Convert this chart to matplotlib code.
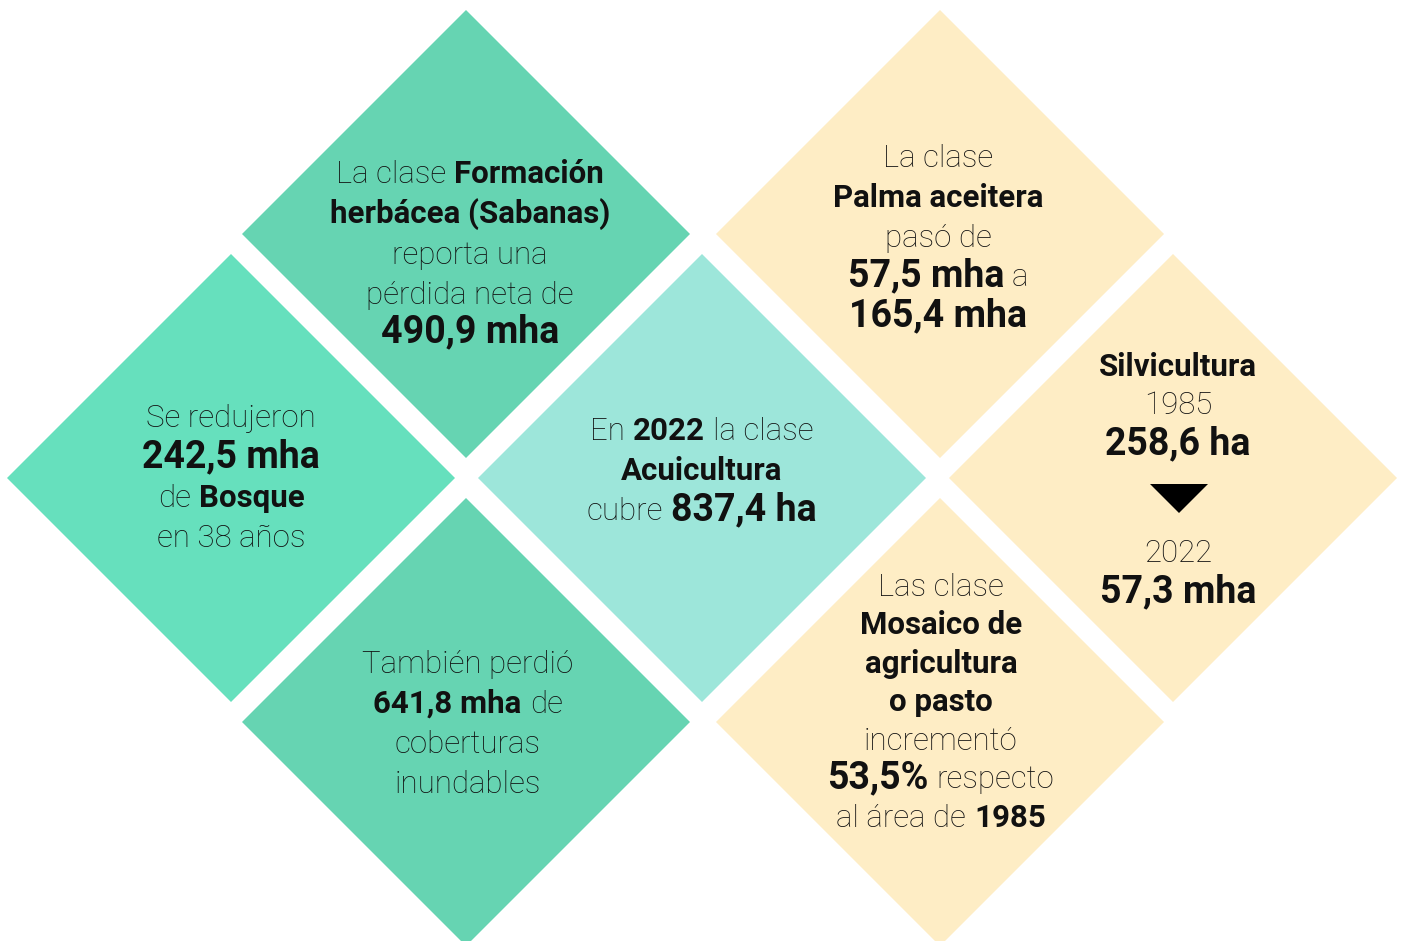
import matplotlib.pyplot as plt
from matplotlib.patches import Polygon


class Infographic:

    def __init__(self):
        self.width = 1406
        self.height = 941
        self.half = 224  # half diagonal of each diamond in pixels
        self.font = 'Roboto'
        self.sizes = {'r': 22.5, 'b': 22.5, 'B': 27}
        self.fig = None
        self.ax = None
        # (center x, center y, colour)
        self.diamonds = [
            (466, 234, '#66d4b2'),
            (231, 478, '#66e0bd'),
            (466, 722, '#66d4b2'),
            (702, 478, '#9de6da'),
            (940, 234, '#feedc5'),
            (1173, 478, '#feedc5'),
            (940, 722, '#feedc5'),
        ]
        # each block: centre x, then lines as (baseline y, [(text, style), ...])
        self.blocks = [
            (470, [(183, [('La clase', 'r'), ('Formación', 'b')]),
                   (223, [('herbácea (Sabanas)', 'b')]),
                   (264, [('reporta una', 'r')]),
                   (304, [('pérdida neta de', 'r')]),
                   (342, [('490,9 mha', 'B')])]),
            (231, [(427, [('Se redujeron', 'r')]),
                   (467, [('242,5 mha', 'B')]),
                   (507, [('de', 'r'), ('Bosque', 'b')]),
                   (547, [('en 38 años', 'r')])]),
            (468, [(673, [('También perdió', 'r')]),
                   (713, [('641,8 mha', 'b'), ('de', 'r')]),
                   (753, [('coberturas', 'r')]),
                   (793, [('inundables', 'r')])]),
            (702, [(440, [('En', 'r'), ('2022', 'b'), ('la clase', 'r')]),
                   (480, [('Acuicultura', 'b')]),
                   (520, [('cubre', 'r'), ('837,4 ha', 'B')])]),
            (938, [(167, [('La clase', 'r')]),
                   (207, [('Palma aceitera', 'b')]),
                   (247, [('pasó de', 'r')]),
                   (286, [('57,5 mha', 'B'), ('a', 'r')]),
                   (326, [('165,4 mha', 'B')])]),
            (1178, [(376, [('Silvicultura', 'b')]),
                    (414, [('1985', 'r')]),
                    (454, [('258,6 ha', 'B')]),
                    (562, [('2022', 'r')]),
                    (602, [('57,3 mha', 'B')])]),
            (941, [(596, [('Las clase', 'r')]),
                   (634, [('Mosaico de', 'b')]),
                   (673, [('agricultura', 'b')]),
                   (711, [('o pasto', 'b')]),
                   (750, [('incrementó', 'r')]),
                   (788, [('53,5%', 'B'), ('respecto', 'r')]),
                   (827, [('al área de', 'r'), ('1985', 'b')])]),
        ]
        self.arrow = (1179, 484, 29)  # tip centre x, top y, half width

    def setup_figure(self):
        self.fig = plt.figure(figsize=(self.width / 100, self.height / 100), dpi=100)
        self.ax = self.fig.add_axes([0, 0, 1, 1])
        self.ax.set_xlim(0, self.width)
        self.ax.set_ylim(self.height, 0)
        self.ax.axis('off')

    def draw_diamonds(self):
        h = self.half
        for cx, cy, colour in self.diamonds:
            pts = [(cx, cy - h), (cx + h, cy), (cx, cy + h), (cx - h, cy)]
            self.ax.add_patch(Polygon(pts, closed=True, facecolor=colour, edgecolor='none'))

    def draw_arrow(self):
        x, y, w = self.arrow
        pts = [(x - w, y), (x + w, y), (x, y + w)]
        self.ax.add_patch(Polygon(pts, closed=True, facecolor='black', edgecolor='none'))

    def draw_line(self, cx, y, segments, renderer):
        gap = 8
        texts = []
        for text, style in segments:
            weight = 'light' if style == 'r' else 'bold'
            t = self.ax.text(0, y, text, fontsize=self.sizes[style], fontweight=weight,
                             family=self.font, color='#111111', ha='left', va='baseline')
            texts.append(t)
        widths = [t.get_window_extent(renderer).width for t in texts]
        total = sum(widths) + gap * (len(texts) - 1)
        x = cx - total / 2
        for t, w in zip(texts, widths):
            t.set_x(x)
            x += w + gap

    def draw_texts(self):
        renderer = self.fig.canvas.get_renderer()
        for cx, lines in self.blocks:
            for y, segments in lines:
                self.draw_line(cx, y, segments, renderer)

    def run(self):
        self.setup_figure()
        self.draw_diamonds()
        self.draw_arrow()
        self.draw_texts()
        self.fig.savefig('out.png', dpi=100)


if __name__ == '__main__':
    chart = Infographic()
    chart.run()
